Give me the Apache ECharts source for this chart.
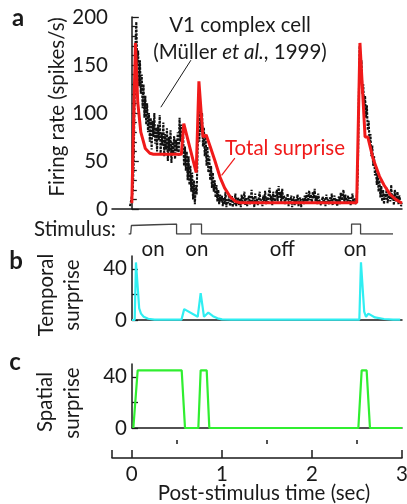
<!DOCTYPE html>
<html><head><meta charset="utf-8">
<script src="https://cdn.jsdelivr.net/npm/echarts@6/dist/echarts.min.js"></script>
<style>html,body{margin:0;padding:0;background:#fff}#c{width:407px;height:504px}</style>
</head><body><div id="c"></div><script>
const FONT = 'Lato';
const FS = 20.5;
// Firing rate (spikes/s), sampled every 0.01 s starting at -0.02 s
const rateStart = -0.02, rateStep = 0.01;
const firingRate = [
  3, 8,
  8, 18, 45, 110, 170, 195, 150, 165, 128, 155,
  120, 140, 105, 130, 95, 118, 88, 110, 80, 100,
  70, 95, 62, 92, 75, 100, 68, 85, 60, 88,
  72, 98, 58, 80, 66, 90, 55, 78, 62, 84,
  50, 75, 60, 82, 48, 70, 58, 76, 52, 72,
  60, 80, 55, 95, 70, 88, 58, 78, 45, 65,
  40, 60, 30, 55, 25, 45, 18, 38, 10, 30,
  5, 25, 15, 60, 95, 70, 110, 80, 100, 65,
  85, 55, 75, 45, 65, 38, 55, 30, 45, 22,
  38, 18, 30, 12, 25, 8, 20, 5, 15, 8,
  14, 3, 12, 5, 18, 2, 10, 6, 15, 3,
  8, 14, 2, 10, 5, 16, 3, 9, 12, 4,
  11, 2, 15, 6, 9, 18, 4, 12, 3, 8,
  14, 5, 10, 20, 6, 13, 2, 16, 7, 11,
  4, 12, 18, 6, 10, 3, 14, 8, 19, 5,
  12, 7, 16, 22, 9, 14, 4, 18, 10, 6,
  15, 20, 8, 24, 12, 18, 6, 21, 10, 14,
  5, 12, 9, 16, 3, 11, 7, 14, 2, 9,
  13, 4, 10, 7, 15, 3, 9, 12, 2, 8,
  11, 5, 14, 8, 17, 6, 12, 19, 9, 15,
  7, 18, 11, 21, 8, 14, 5, 16, 10, 12,
  4, 9, 13, 6, 11, 3, 15, 7, 10, 5,
  12, 8, 16, 4, 10, 14, 6, 11, 3, 9,
  13, 5, 17, 9, 12, 20, 7, 15, 10, 6,
  14, 8, 12, 4, 10, 16, 6, 11, 5, 9,
  15, 40, 110, 170, 140, 155, 120, 130, 100, 118,
  95, 108, 82, 92, 68, 78, 55, 66, 45, 55,
  35, 45, 25, 38, 18, 30, 12, 24, 8, 20,
  5, 16, 10, 22, 6, 14, 18, 8, 25, 10,
  15, 4, 20, 8, 12, 18, 5, 14, 9, 3,
  6
];
// Total surprise model [time s, value]
const totalSurprise = [
  [0.0,6],[0.04,173],[0.066,111],[0.1,80],[0.15,63],[0.2,58],[0.24,57],[0.55,57],
  [0.577,89],[0.715,38],[0.745,133],[0.79,75],[0.826,77],[0.87,65],[0.92,51],[0.98,33],
  [1.03,22],[1.09,13],[1.15,8],[1.2,6.5],[2.497,6.5],[2.533,173],[2.59,75],[2.62,75],
  [2.68,52],[2.75,34],[2.8,25],[2.87,15],[2.93,10],[3.0,6]
];
// Temporal surprise [time s, value]
const temporalSurprise = [
  [0,0],[0.03,0],[0.044,45],[0.08,9],[0.1,5],[0.13,2.5],[0.18,1],[0.25,0.3],[0.55,0.3],
  [0.58,8.5],[0.73,2.5],[0.763,21],[0.8,2.5],[0.848,5.8],[0.9,3],[0.95,1.3],[1.0,0.5],
  [1.1,0.3],[2.526,0.3],[2.544,45],[2.58,6.5],[2.6,2.5],[2.626,5],[2.7,2],[2.8,0.8],
  [2.9,0.3],[2.98,0.3]
];
// Spatial surprise [time s, value]
const spatialSurprise = [
  [0.015,0],[0.063,45],[0.552,45],[0.589,0],[0.737,0],[0.763,45],[0.83,45],[0.859,0],
  [2.515,0],[2.552,45],[2.607,45],[2.644,0],[3.0,0]
];
// Stimulus on/off trace [time s, level]
const stimulus = [
  [-0.035,0],[-0.012,0],[-0.005,0.85],[0.01,1],[0.497,1],[0.497,0],[0.656,0],[0.656,1],
  [0.774,1],[0.774,0],[2.44,0],[2.44,1],[2.54,1],[2.54,0],[2.9,0]
];
const stimulusLabels = [['on',0.235],['on',0.72],['off',1.67],['on',2.48]];
const rateTicks = [0,50,100,150,200];
const surpriseLabelTicks = [0,40];
const surpriseTicks = [0,20,40];
const timeLabelTicks = [0,1,2,3];
const timeTicks = [-0.22,0,1,2,3];
const timeMinorTicks = [0.5,1.5,2.5];

const INK = '#1a1a1a';
const firingData = firingRate.map((v,i)=>[+(rateStart + i*rateStep).toFixed(3), v]);

const chart = echarts.init(document.getElementById('c'), null, {renderer:'canvas'});
const axLine = {show:true, lineStyle:{color:INK, width:1.5}};
const noSplit = {show:false};
const lbl = {fontFamily:FONT, fontSize:FS, color:INK};
const FNT = FS + 'px ' + FONT;
const tx = (text, x, y, extra) => ({type:'text', x, y, style:Object.assign({text, fill:INK, font:FNT, align:'center', verticalAlign:'middle'}, extra||{})});
const rot = (text, x, y) => ({type:'text', x, y, rotation:Math.PI/2, style:{text, fill:INK, font:FNT, align:'center', verticalAlign:'middle'}});

chart.setOption({
  animation:false,
  backgroundColor:'#fff',
  grid:[
    {left:112, top:17, width:290, height:192, outerBoundsMode:'none', containLabel:false},
    {left:112, top:224, width:290, height:10, outerBoundsMode:'none', containLabel:false},
    {left:132, top:256, width:270, height:64, outerBoundsMode:'none', containLabel:false},
    {left:132, top:364, width:270, height:64, outerBoundsMode:'none', containLabel:false},
    {left:112, top:440, width:290, height:18, outerBoundsMode:'none', containLabel:false}
  ],
  xAxis:[
    {gridIndex:0, type:'value', min:-0.22, max:3.0, axisLine:axLine, axisTick:{show:false}, axisLabel:{show:false}, splitLine:noSplit},
    {gridIndex:1, type:'value', min:-0.22, max:3.0, show:false},
    {gridIndex:2, type:'value', min:0, max:3.0, axisLine:axLine, axisTick:{show:false}, axisLabel:{show:false}, splitLine:noSplit},
    {gridIndex:3, type:'value', min:0, max:3.0, axisLine:axLine, axisTick:{show:false}, axisLabel:{show:false}, splitLine:noSplit},
    {gridIndex:4, type:'value', min:-0.22, max:3.0, axisLine:axLine,
      axisTick:{show:true, inside:true, length:8, customValues:timeTicks, lineStyle:{color:INK, width:1.5}},
      axisLabel:Object.assign({show:true, margin:6, customValues:timeLabelTicks}, lbl), splitLine:noSplit},
    {gridIndex:4, type:'value', min:-0.22, max:3.0, axisLine:{show:false},
      axisTick:{show:true, inside:true, length:4, customValues:timeMinorTicks, lineStyle:{color:INK, width:1.5}},
      axisLabel:{show:false}, splitLine:noSplit}
  ],
  yAxis:[
    {gridIndex:0, type:'value', min:0, max:200, interval:50, axisLine:axLine,
      axisTick:{show:true, inside:true, length:7, lineStyle:{color:INK, width:1.3}},
      minorTick:{show:true, splitNumber:5, length:5, lineStyle:{color:INK, width:1.3}},
      axisLabel:Object.assign({margin:4, customValues:rateTicks}, lbl), splitLine:noSplit, minorSplitLine:noSplit},
    {gridIndex:1, type:'value', min:0, max:1, show:false},
    {gridIndex:2, type:'value', min:0, max:50, axisLine:axLine,
      axisTick:{show:true, inside:true, length:6, customValues:surpriseTicks, lineStyle:{color:INK, width:1.3}},
      axisLabel:Object.assign({margin:5, customValues:surpriseLabelTicks}, lbl), splitLine:noSplit},
    {gridIndex:3, type:'value', min:0, max:50, axisLine:axLine,
      axisTick:{show:true, inside:true, length:6, customValues:surpriseTicks, lineStyle:{color:INK, width:1.3}},
      axisLabel:Object.assign({margin:5, customValues:surpriseLabelTicks}, lbl), splitLine:noSplit},
    {gridIndex:4, type:'value', min:0, max:1, show:false}
  ],
  series:[
    {type:'line', xAxisIndex:0, yAxisIndex:0, data:firingData, showSymbol:false, z:2,
      lineStyle:{color:'#111', width:2.1, type:[2.5,1.2]},
      markLine:{silent:true, symbol:'none', label:{show:false}, lineStyle:{color:INK, width:1, type:'solid'},
        data:[[{coord:[0.656,155]},{coord:[0.322,106]}]]}},
    {type:'line', xAxisIndex:0, yAxisIndex:0, data:totalSurprise, showSymbol:false, z:3,
      lineStyle:{color:'#f01a1a', width:3},
      markLine:{silent:true, symbol:'none', label:{show:false}, lineStyle:{color:'#f01a1a', width:1.2, type:'solid'},
        data:[[{coord:[1.144,53]},{coord:[0.997,35]}]]}},
    {type:'line', xAxisIndex:1, yAxisIndex:1, data:stimulus, showSymbol:false, smooth:false,
      lineStyle:{color:'#444', width:1.3}},
    {type:'line', xAxisIndex:2, yAxisIndex:2, data:temporalSurprise, showSymbol:false, z:3,
      lineStyle:{color:'#30eef2', width:2.2}},
    {type:'line', xAxisIndex:3, yAxisIndex:3, data:spatialSurprise, showSymbol:false, z:3,
      lineStyle:{color:'#30ee30', width:2.2}}
  ],
  graphic:[
    tx('a', 18, 18, {font:'bold 24px '+FONT}),
    tx('b', 16, 261, {font:'bold 24px '+FONT}),
    tx('c', 15, 362, {font:'bold 24px '+FONT}),
    rot('Firing rate (spikes/s)', 57, 107),
    rot('Temporal', 46, 295),
    rot('surprise', 72, 295),
    rot('Spatial', 45, 402),
    rot('surprise', 72, 403),
    tx('V1 complex cell', 240, 25),
    {type:'text', x:240, y:52, style:{text:'(Müller {i|et al.}, 1999)', fill:INK, font:FNT, align:'center', verticalAlign:'middle',
      rich:{i:{fontStyle:'italic', fontFamily:FONT, fontSize:FS, fill:INK}}}},
    tx('Total surprise', 285, 148, {fill:'#f01a1a'}),
    tx('Stimulus:', 75, 229),
    tx('Post-stimulus time (sec)', 264, 493)
  ].concat(stimulusLabels.map(s => tx(s[0], 132 + s[1]*90, 249)))
});
</script></body></html>
